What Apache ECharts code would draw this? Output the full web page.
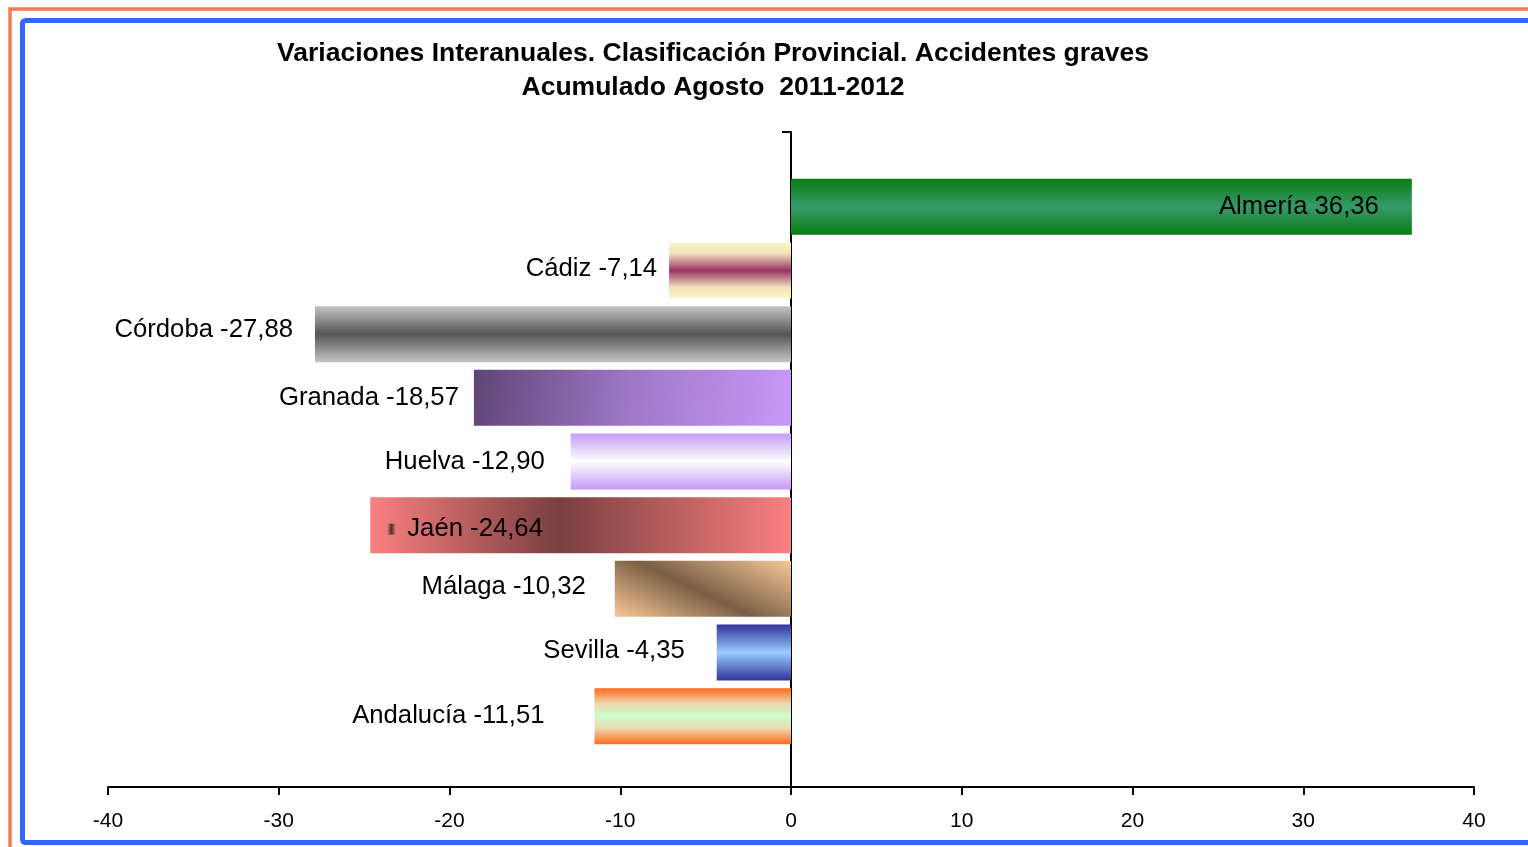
<!DOCTYPE html>
<html>
<head>
<meta charset="utf-8">
<script src="https://cdn.jsdelivr.net/npm/echarts@6/dist/echarts.min.js"></script>
<style>
html,body{margin:0;padding:0;background:#fff;}
#chart{width:1528px;height:847px;}
</style>
</head>
<body>
<div id="chart"></div>
<script>
// ---- data ----
var titleLines = ['Variaciones Interanuales. Clasificación Provincial. Accidentes graves', 'Acumulado Agosto  2011-2012'];
var categories = ['Almería', 'Cádiz', 'Córdoba', 'Granada', 'Huelva', 'Jaén', 'Málaga', 'Sevilla', 'Andalucía'];
var values = [36.36, -7.14, -27.88, -18.57, -12.90, -24.64, -10.32, -4.35, -11.51];
var xTicks = [-40, -30, -20, -10, 0, 10, 20, 30, 40];

// ---- styles ----
function vgrad(stops) {
  return {type: 'linear', x: 0, y: 0, x2: 0, y2: 1, colorStops: stops.map(function (s) { return {offset: s[0], color: s[1]}; })};
}
function grad(x, y, x2, y2, stops) {
  return {type: 'linear', x: x, y: y, x2: x2, y2: y2, colorStops: stops.map(function (s) { return {offset: s[0], color: s[1]}; })};
}
var fills = [
  vgrad([[0, '#0a7c14'], [0.5, '#359b6a'], [1, '#0a7c14']]),
  vgrad([[0, '#fcf8c8'], [0.2, '#f0e0b8'], [0.5, '#993366'], [0.8, '#f0e0b8'], [1, '#fcf8c8']]),
  vgrad([[0, '#c4c4c4'], [0.5, '#555555'], [1, '#c4c4c4']]),
  grad(0, 0.1, 1, 0.9, [[0, '#5f4577'], [0.5, '#a078c8'], [1, '#c898f8']]),
  vgrad([[0, '#c49cf6'], [0.5, '#ffffff'], [1, '#c49cf6']]),
  grad(0, 0, 1, 0, [[0, '#fa8080'], [0.45, '#7a3f3f'], [1, '#fa8080']]),
  grad(0, 1, 0.313, -1.05, [[0, '#f8c898'], [0.47, '#7a5f45'], [1, '#f8c898']]),
  vgrad([[0, '#33339a'], [0.5, '#99ccff'], [1, '#33339a']]),
  vgrad([[0, '#ff6a1c'], [0.28, '#ecd8b0'], [0.5, '#ccffcc'], [0.72, '#ecd8b0'], [1, '#ff6a1c']])
];
// label gap from bar end / vertical nudge
var labelGap = [33, 12, 22, 15, 26, 20, 29, 32, 50];
var labelNudge = [0, -2, -4, 0, 0, 4, -2, -2, 0];

function fmt(v) { return v.toFixed(2).replace('.', ','); }

var FONT = '"Liberation Sans", Arial, sans-serif';
var LFS = 25.7;

var barData = values.map(function (v, i) {
  var item = {value: v, itemStyle: {color: fills[i]}, label: {distance: labelGap[i], offset: [0, labelNudge[i]]}};
  if (i === 0) {
    item.label.position = 'insideRight';
  } else if (categories[i] === 'Jaén') {
    item.label = {
      position: 'insideLeft', distance: 17, offset: [0, labelNudge[i]],
      formatter: function (p) { return '{m| }{t|' + p.name + ' ' + fmt(p.value) + '}'; },
      rich: {
        m: {width: 8, height: 11, fontSize: 8, backgroundColor: {type: 'linear', x: 0, y: 0, x2: 1, y2: 0, colorStops: [{offset: 0, color: '#d08080'}, {offset: 0.5, color: '#5a2a2a'}, {offset: 1, color: '#c07070'}]}},
        t: {fontSize: LFS, fontFamily: FONT, color: '#000', padding: [0, 0, 0, 12]}
      }
    };
  }
  return item;
});

var chart = echarts.init(document.getElementById('chart'), null, {renderer: 'canvas'});
chart.setOption({
  animation: false,
  backgroundColor: '#fff',
  title: {
    text: titleLines.join('\n'),
    left: 708, top: 32, textAlign: 'center',
    textStyle: {fontFamily: FONT, fontWeight: 'bold', fontSize: 26.5, lineHeight: 34, color: '#000'}
  },
  graphic: [
    {type: 'rect', shape: {x: 10, y: 9, width: 1700, height: 1000}, style: {fill: 'none', stroke: '#f47a55', lineWidth: 3.5}, silent: true},
    {type: 'rect', shape: {x: 22.5, y: 20.5, width: 1700, height: 822, r: 3}, style: {fill: 'none', stroke: '#3366ff', lineWidth: 5}, silent: true}
  ],
  grid: [
    {left: 108, right: 54, top: 132, bottom: 60},
    {left: 108, right: 54, top: 175, bottom: 99}
  ],
  xAxis: [
    {
      gridIndex: 0, type: 'value', min: xTicks[0], max: xTicks[xTicks.length - 1], interval: 10,
      position: 'bottom',
      axisLine: {onZero: false, lineStyle: {color: '#000', width: 2}},
      axisTick: {show: true, length: 8, lineStyle: {color: '#000', width: 2}},
      splitLine: {show: false},
      axisLabel: {fontFamily: FONT, fontSize: 21, color: '#000', margin: 24}
    },
    {
      gridIndex: 1, type: 'value', min: xTicks[0], max: xTicks[xTicks.length - 1], interval: 10,
      show: false, splitLine: {show: false}
    }
  ],
  yAxis: [
    {
      gridIndex: 0, type: 'value', min: 0, max: 1, interval: 1,
      axisLine: {show: true, onZero: true, lineStyle: {color: '#000', width: 2}},
      axisTick: {show: true, length: 9, lineStyle: {color: '#000', width: 2}},
      axisLabel: {show: false},
      splitLine: {show: false}
    },
    {
      gridIndex: 1, type: 'category', data: categories, inverse: true, show: false
    }
  ],
  series: [{
    type: 'bar',
    xAxisIndex: 1, yAxisIndex: 1,
    barWidth: 56,
    data: barData,
    z: 1,
    label: {
      show: true, position: 'left', distance: 12,
      fontFamily: FONT, fontSize: LFS, color: '#000',
      formatter: function (p) { return p.name + ' ' + fmt(p.value); }
    }
  }]
});
</script>
</body>
</html>
